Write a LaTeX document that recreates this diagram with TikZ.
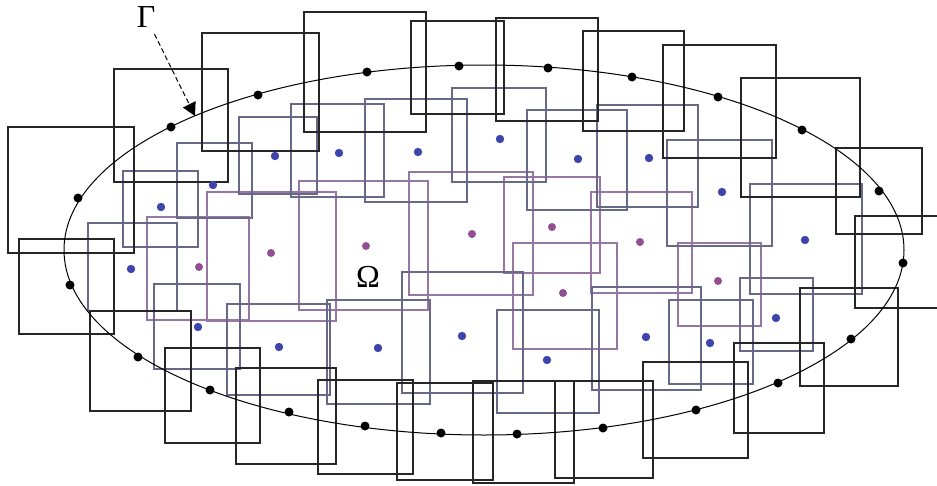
\documentclass[tikz,border=0pt]{standalone}
\usepackage{fontspec}
\newfontfamily\greekfont{Liberation Serif}
\usetikzlibrary{arrows.meta}

\definecolor{edgeblue}{RGB}{104,104,136}
\definecolor{edgepurple}{RGB}{150,118,162}
\definecolor{dotblue}{RGB}{62,68,172}
\definecolor{dotpurple}{RGB}{146,78,146}

\begin{document}
\begin{tikzpicture}[x=1pt,y=-1pt,
    outerbox/.style={draw=black!85,line width=1.4pt},
    innerbox/.style={draw=edgeblue,line width=1.4pt},
    corebox/.style={draw=edgepurple,line width=1.3pt},
    bigsym/.style={font=\greekfont\fontsize{32}{32}\selectfont,inner sep=1pt}]
    \useasboundingbox (0,0) rectangle (937,485);
    \clip (0,0) rectangle (937,485);

    % supports of the purple points
    \draw[corebox] (147,217) rectangle (249,320);
    \draw[corebox] (207,192) rectangle (336,321);
    \draw[corebox] (299,181) rectangle (428,310);
    \draw[corebox] (409,172) rectangle (533,295);
    \draw[corebox] (504,177) rectangle (600,273);
    \draw[corebox] (591,192) rectangle (692,293);
    \draw[corebox] (678,243) rectangle (761,326);
    \draw[corebox] (513,243) rectangle (617,349);

    % supports of the blue points
    \draw[innerbox] (177,143) rectangle (252,218);
    \draw[innerbox] (239,117) rectangle (317,194);
    \draw[innerbox] (291,104) rectangle (384,197);
    \draw[innerbox] (365,99) rectangle (467,202);
    \draw[innerbox] (452,88) rectangle (546,182);
    \draw[innerbox] (527,110) rectangle (627,210);
    \draw[innerbox] (597,105) rectangle (698,207);
    \draw[innerbox] (667,140) rectangle (772,246);
    \draw[innerbox] (750,184) rectangle (862,294);
    \draw[innerbox] (740,278) rectangle (813,351);
    \draw[innerbox] (669,300) rectangle (753,384);
    \draw[innerbox] (592,287) rectangle (701,390);
    \draw[innerbox] (497,310) rectangle (599,413);
    \draw[innerbox] (402,272) rectangle (523,393);
    \draw[innerbox] (327,300) rectangle (430,404);
    \draw[innerbox] (227,304) rectangle (330,395);
    \draw[innerbox] (154,284) rectangle (240,369);
    \draw[innerbox] (88,223) rectangle (177,311);
    \draw[innerbox] (123,171) rectangle (198,247);

    % supports of the boundary points
    \draw[outerbox] (8,127) rectangle (134,253);
    \draw[outerbox] (114,69) rectangle (228,182);
    \draw[outerbox] (202,33) rectangle (319,151);
    \draw[outerbox] (304,12) rectangle (426,132);
    \draw[outerbox] (411,21) rectangle (504,114);
    \draw[outerbox] (496,18) rectangle (598,121);
    \draw[outerbox] (583,31) rectangle (684,131);
    \draw[outerbox] (663,45) rectangle (776,158);
    \draw[outerbox] (741,78) rectangle (860,197);
    \draw[outerbox] (836,148) rectangle (922,234);
    \draw[outerbox] (855,216) rectangle (951,308);
    \draw[outerbox] (800,288) rectangle (898,386);
    \draw[outerbox] (734,343) rectangle (824,433);
    \draw[outerbox] (643,362) rectangle (748,458);
    \draw[outerbox] (555,381) rectangle (653,478);
    \draw[outerbox] (473,381) rectangle (574,483);
    \draw[outerbox] (397,383) rectangle (493,480);
    \draw[outerbox] (318,380) rectangle (413,474);
    \draw[outerbox] (236,368) rectangle (336,464);
    \draw[outerbox] (165,348) rectangle (260,443);
    \draw[outerbox] (90,311) rectangle (191,411);
    \draw[outerbox] (19,239) rectangle (114,334);

    % the domain and its boundary
    \draw[line width=1pt] (484,250) ellipse [x radius=420, y radius=185];

    \foreach \p in {(78,198),(171,127),(258,95),(367,72),(459,66),(548,68),
        (632,77),(718,97),(802,130),(879,191),(903,263),(851,339),(778,383),
        (696,410),(603,428),(517,434),(441,433),(365,426),(289,412),(210,390),
        (138,357),(70,285)}
        \fill[black] \p circle (4.5pt);

    \foreach \p in {(213,185),(275,156),(339,153),(418,152),(500,139),(578,159),
        (649,158),(722,192),(805,240),(776,318),(710,343),(646,337),(547,360),
        (462,336),(378,348),(279,347),(198,327),(131,269),(161,207)}
        \fill[dotblue] \p circle (4.2pt);

    \foreach \p in {(199,267),(271,253),(366,246),(472,234),(552,227),(640,242),
        (718,281),(563,293)}
        \fill[dotpurple] \p circle (4pt);

    \node[bigsym] (omega) at (368,277) {Ω};
    \node[bigsym] (gamma) at (146,17) {Γ};
    \coordinate (gtip) at (195,116);
    \draw[line width=1pt,dash pattern=on 5pt off 3pt,shorten <=6pt,
        -{Triangle[length=13pt,width=14pt]}] (gamma) -- (gtip);
\end{tikzpicture}
\end{document}
